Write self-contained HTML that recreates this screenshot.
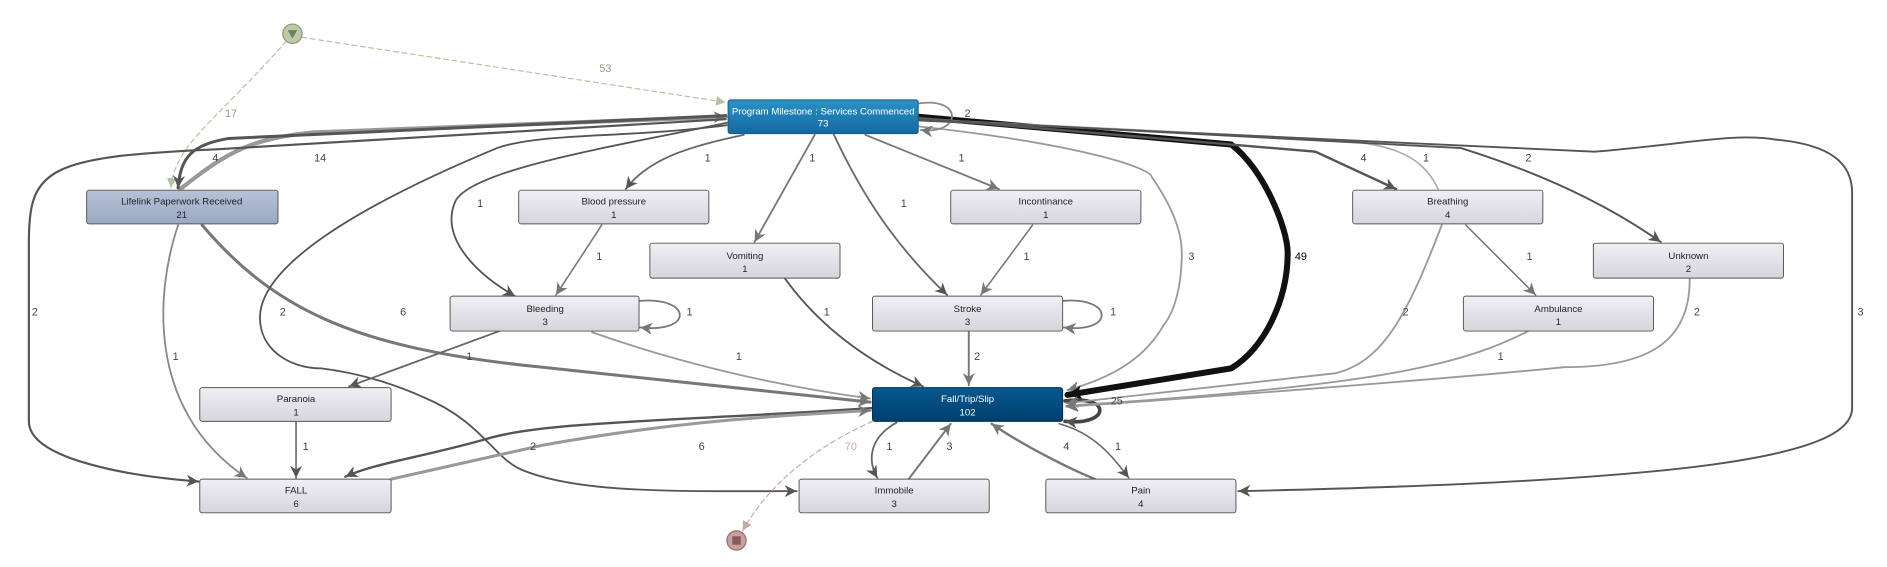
<!DOCTYPE html>
<html><head><meta charset="utf-8"><style>
html,body{margin:0;padding:0;background:#fff;}
svg{display:block;}
text{font-family:"Liberation Sans",sans-serif;}
.lb{font-size:9px;fill:#444;text-anchor:middle;}
.nt{font-size:8px;fill:#222;text-anchor:middle;}
.wt{font-size:8px;fill:#fff;text-anchor:middle;}
</style></head><body>
<svg width="1887" height="567" viewBox="0 0 1568 471" preserveAspectRatio="none" xmlns="http://www.w3.org/2000/svg">
<defs>
<linearGradient id="gg" x1="0" y1="0" x2="0" y2="1"><stop offset="0" stop-color="#f0eff4"/><stop offset="1" stop-color="#d6d5dc"/></linearGradient>
<linearGradient id="gb" x1="0" y1="0" x2="0" y2="1"><stop offset="0" stop-color="#2b92c6"/><stop offset="1" stop-color="#14689f"/></linearGradient>
<linearGradient id="gd" x1="0" y1="0" x2="0" y2="1"><stop offset="0" stop-color="#08588f"/><stop offset="1" stop-color="#003f70"/></linearGradient>
<linearGradient id="gl" x1="0" y1="0" x2="0" y2="1"><stop offset="0" stop-color="#b7c2d8"/><stop offset="1" stop-color="#9aa8c2"/></linearGradient>
<marker id="ad" markerUnits="userSpaceOnUse" markerWidth="12" markerHeight="12" refX="10" refY="5" orient="auto"><path d="M0,0 L10,5 L0,10 L3,5 z" fill="#555"/></marker>
<marker id="ag" markerUnits="userSpaceOnUse" markerWidth="12" markerHeight="12" refX="10" refY="5" orient="auto"><path d="M0,0 L10,5 L0,10 L3,5 z" fill="#777"/></marker>
<marker id="ak" markerUnits="userSpaceOnUse" markerWidth="14" markerHeight="14" refX="12" refY="6" orient="auto"><path d="M0,0 L12,6 L0,12 L3,6 z" fill="#111"/></marker>
<marker id="ast" markerUnits="userSpaceOnUse" markerWidth="10" markerHeight="10" refX="8" refY="4" orient="auto"><path d="M0,0 L8,4 L0,8 z" fill="#b5c4a0"/></marker>
<marker id="aen" markerUnits="userSpaceOnUse" markerWidth="10" markerHeight="10" refX="8" refY="4" orient="auto"><path d="M0,0 L8,4 L0,8 z" fill="#c9a8a8"/></marker>
</defs>
<g fill="none" stroke-linecap="round">
<path d="M251,31 L603,85" stroke="#b5c4a0" stroke-dasharray="4,3" marker-end="url(#ast)"/>
<path d="M238,34 C180,100 145,120 142,156" stroke="#b5c4a0" stroke-dasharray="4,3" marker-end="url(#ast)"/>
<path d="M150,157 C190,125 210,115 260,110 L603,97" stroke="#999" stroke-width="3.5" marker-end="url(#ag)"/>
<path d="M603,96 L190,115 C160,120 150,130 148,156" stroke="#555" stroke-width="2.5" marker-end="url(#ad)"/>
<path d="M603,99 L180,124 C40,130 24,140 24,200 L24,350 C24,380 100,395 165,400" stroke="#555" stroke-width="1.8" marker-end="url(#ad)"/>
<path d="M148,187 C130,240 120,340 205,397" stroke="#888" stroke-width="1.5" marker-end="url(#ag)"/>
<path d="M168,187 C230,260 300,290 450,305 L723,334" stroke="#777" stroke-width="2.5" marker-end="url(#ag)"/>
<path d="M604,104 C520,115 450,110 413,123 C300,170 216,220 216,264 C216,290 240,306 267,306 C300,310 330,320 352,330 C400,350 410,380 433,390 C480,410 560,408 662,408" stroke="#555" stroke-width="1.5" marker-end="url(#ad)"/>
<path d="M604,102 C520,120 390,140 378,168 C365,200 400,230 428,246" stroke="#555" stroke-width="1.5" marker-end="url(#ad)"/>
<path d="M618,112 C580,120 540,130 520,157" stroke="#666" stroke-width="1.5" marker-end="url(#ad)"/>
<path d="M677,112 L627,201" stroke="#777" stroke-width="1.5" marker-end="url(#ag)"/>
<path d="M693,112 C720,170 750,210 787,245" stroke="#666" stroke-width="1.5" marker-end="url(#ad)"/>
<path d="M719,112 L830,157" stroke="#777" stroke-width="1.5" marker-end="url(#ag)"/>
<path d="M763,105 C900,120 957,140 957,147 C980,180 982,200 982,210 C982,240 975,260 967,270 C950,300 920,315 887,324" stroke="#999" stroke-width="1.5" marker-end="url(#ag)"/>
<path d="M763,97 L1023,120 C1050,140 1070,190 1070,210 C1070,250 1050,290 1023,306 L887,328" stroke="#111" stroke-width="5" marker-end="url(#ak)"/>
<path d="M885,333 C925,328 922,354 885,350" stroke="#444" stroke-width="3" marker-end="url(#ad)"/>
<path d="M763,86 C800,80 800,112 765,108" stroke="#888" stroke-width="1.5" marker-end="url(#ag)"/>
<path d="M763,98 L1093,126 L1160,157" stroke="#555" stroke-width="2" marker-end="url(#ad)"/>
<path d="M1195,157 C1180,125 1150,118 1090,115 L765,99" stroke="#aaa" stroke-width="1.3"/>
<path d="M763,99 L1214,123 C1300,150 1350,180 1380,201" stroke="#555" stroke-width="1.6" marker-end="url(#ad)"/>
<path d="M763,100 L1325,126 C1400,120 1440,110 1476,116 C1520,120 1539,135 1539,160 L1539,339 C1539,380 1400,400 1029,408" stroke="#555" stroke-width="1.6" marker-end="url(#ad)"/>
<path d="M858,187 L815,245" stroke="#777" stroke-width="1.3" marker-end="url(#ag)"/>
<path d="M500,187 L462,245" stroke="#777" stroke-width="1.3" marker-end="url(#ag)"/>
<path d="M531,250 C575,246 577,277 532,272" stroke="#777" stroke-width="1.5" marker-end="url(#ag)"/>
<path d="M883,250 C925,246 927,277 884,272" stroke="#777" stroke-width="1.5" marker-end="url(#ag)"/>
<path d="M805,275 L805,320" stroke="#777" stroke-width="1.6" marker-end="url(#ag)"/>
<path d="M652,231 C680,270 720,300 767,321" stroke="#555" stroke-width="1.5" marker-end="url(#ad)"/>
<path d="M415,275 L290,321" stroke="#666" stroke-width="1.5" marker-end="url(#ad)"/>
<path d="M492,276 C560,300 640,320 723,331" stroke="#999" stroke-width="1.5" marker-end="url(#ag)"/>
<path d="M246,350 L246,397" stroke="#666" stroke-width="1.3" marker-end="url(#ad)"/>
<path d="M725,339 C560,350 450,350 403,365 C350,380 310,385 287,396" stroke="#555" stroke-width="2" marker-end="url(#ad)"/>
<path d="M325,398 L450,370 C560,350 650,345 723,341" stroke="#999" stroke-width="2.5" marker-end="url(#ag)"/>
<path d="M725,350 C680,370 640,400 617,441" stroke="#c9a8a8" stroke-dasharray="4,3" marker-end="url(#aen)"/>
<path d="M745,351 C720,365 722,385 729,397" stroke="#666" stroke-width="1.5" marker-end="url(#ad)"/>
<path d="M755,398 L790,352" stroke="#777" stroke-width="1.6" marker-end="url(#ag)"/>
<path d="M910,398 C890,390 850,370 824,352" stroke="#777" stroke-width="2" marker-end="url(#ag)"/>
<path d="M880,352 C910,360 925,380 938,397" stroke="#666" stroke-width="1.3" marker-end="url(#ad)"/>
<path d="M1198,187 C1170,260 1150,300 1110,310 L886,335" stroke="#999" stroke-width="1.5" marker-end="url(#ag)"/>
<path d="M1270,275 C1220,300 1160,320 886,337" stroke="#999" stroke-width="1.5" marker-end="url(#ag)"/>
<path d="M1404,231 C1405,290 1360,305 1300,305 C1200,315 1000,330 886,338" stroke="#999" stroke-width="1.5" marker-end="url(#ag)"/>
<path d="M1218,187 L1276,245" stroke="#777" stroke-width="1.3" marker-end="url(#ag)"/>
</g>
<g class="lb">
<text x="503" y="60" fill="#9a9a80" style="fill:#9a9a80">53</text>
<text x="192" y="97" style="fill:#9a9a80">17</text>
<text x="266" y="134">14</text><text x="179" y="134">4</text>
<text x="29" y="262">2</text><text x="146" y="299">1</text><text x="335" y="262">6</text>
<text x="235" y="262">2</text><text x="399" y="172">1</text><text x="588" y="134">1</text>
<text x="675" y="134">1</text><text x="751" y="172">1</text><text x="799" y="134">1</text>
<text x="990" y="216">3</text><text x="1081" y="216" style="fill:#000">49</text>
<text x="928" y="336">25</text><text x="804" y="97">2</text><text x="1133" y="134">4</text>
<text x="1185" y="134">1</text><text x="1270" y="134">2</text><text x="1546" y="262">3</text>
<text x="853" y="216">1</text><text x="498" y="216">1</text><text x="573" y="262">1</text>
<text x="925" y="262">1</text><text x="812" y="299">2</text><text x="687" y="262">1</text>
<text x="390" y="299">1</text><text x="614" y="299">1</text><text x="254" y="374">1</text>
<text x="443" y="374">2</text><text x="583" y="374">6</text><text x="707" y="374" style="fill:#c9a8a8">70</text>
<text x="739" y="374">1</text><text x="789" y="374">3</text><text x="886" y="374">4</text>
<text x="929" y="374">1</text><text x="1168" y="262">2</text><text x="1247" y="299">1</text>
<text x="1410" y="262">2</text><text x="1271" y="216">1</text>
</g>
<circle cx="243" cy="28" r="8" fill="#bccaa8" stroke="#8a9a78"/>
<path d="M239,25 L247,25 L243,32 z" fill="#6f8060"/>
<circle cx="612" cy="449" r="8" fill="#c9a0a0" stroke="#9a7070"/>
<rect x="608.5" y="445.5" width="7" height="7" fill="#8a5a5a"/>
<g stroke="#555" stroke-width="0.8">
<rect x="605" y="83" width="158" height="28" rx="2" fill="url(#gb)" stroke="#1a5a85"/>
<rect x="72" y="158" width="159" height="28" rx="2" fill="url(#gl)"/>
<rect x="431" y="158" width="158" height="28" rx="2" fill="url(#gg)"/>
<rect x="790" y="158" width="158" height="28" rx="2" fill="url(#gg)"/>
<rect x="1124" y="158" width="158" height="28" rx="2" fill="url(#gg)"/>
<rect x="540" y="202" width="158" height="29" rx="2" fill="url(#gg)"/>
<rect x="1324" y="202" width="158" height="29" rx="2" fill="url(#gg)"/>
<rect x="374" y="246" width="157" height="29" rx="2" fill="url(#gg)"/>
<rect x="725" y="246" width="158" height="29" rx="2" fill="url(#gg)"/>
<rect x="1216" y="246" width="158" height="29" rx="2" fill="url(#gg)"/>
<rect x="166" y="322" width="159" height="28" rx="2" fill="url(#gg)"/>
<rect x="725" y="322" width="158" height="28" rx="2" fill="url(#gd)" stroke="#003050"/>
<rect x="166" y="398" width="159" height="28" rx="2" fill="url(#gg)"/>
<rect x="664" y="398" width="158" height="28" rx="2" fill="url(#gg)"/>
<rect x="869" y="398" width="158" height="28" rx="2" fill="url(#gg)"/>
</g>
<text class="wt" x="684" y="95">Program Milestone : Services Commenced</text><text class="wt" x="684" y="105">73</text>
<text class="nt" x="151" y="170">Lifelink Paperwork Received</text><text class="nt" x="151" y="181">21</text>
<text class="nt" x="510" y="170">Blood pressure</text><text class="nt" x="510" y="181">1</text>
<text class="nt" x="869" y="170">Incontinance</text><text class="nt" x="869" y="181">1</text>
<text class="nt" x="1203" y="170">Breathing</text><text class="nt" x="1203" y="181">4</text>
<text class="nt" x="619" y="215">Vomiting</text><text class="nt" x="619" y="226">1</text>
<text class="nt" x="1403" y="215">Unknown</text><text class="nt" x="1403" y="226">2</text>
<text class="nt" x="453" y="259">Bleeding</text><text class="nt" x="453" y="270">3</text>
<text class="nt" x="804" y="259">Stroke</text><text class="nt" x="804" y="270">3</text>
<text class="nt" x="1295" y="259">Ambulance</text><text class="nt" x="1295" y="270">1</text>
<text class="nt" x="246" y="334">Paranoia</text><text class="nt" x="246" y="345">1</text>
<text class="wt" x="804" y="334">Fall/Trip/Slip</text><text class="wt" x="804" y="345">102</text>
<text class="nt" x="246" y="410">FALL</text><text class="nt" x="246" y="421">6</text>
<text class="nt" x="743" y="410">Immobile</text><text class="nt" x="743" y="421">3</text>
<text class="nt" x="948" y="410">Pain</text><text class="nt" x="948" y="421">4</text>
</svg>
</body></html>
